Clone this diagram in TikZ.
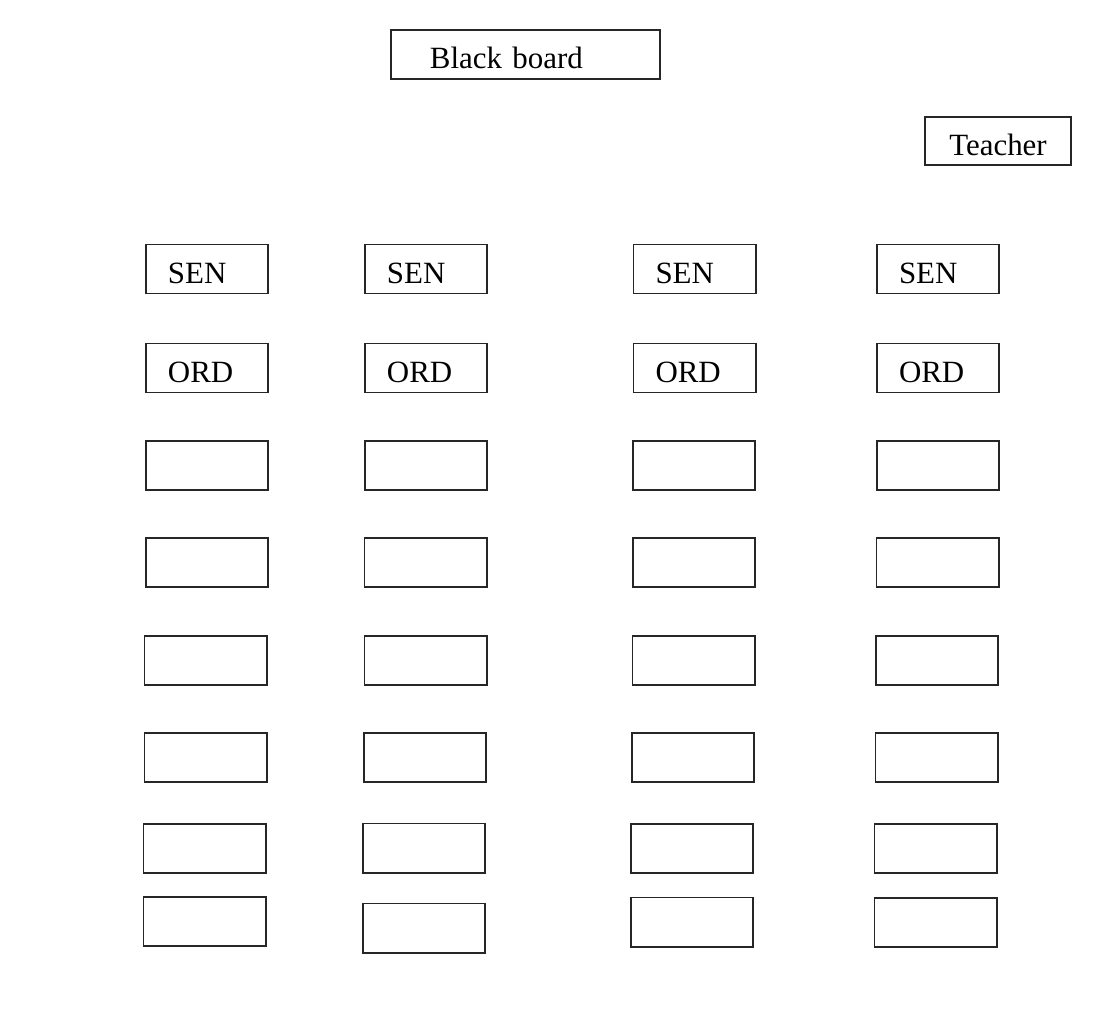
\documentclass[tikz,border=0pt]{standalone}
\usepackage{fontspec}
\setmainfont{Liberation Serif}
\usetikzlibrary{positioning}

\begin{document}
\begin{tikzpicture}[
        x=0.025cm, y=-0.025cm,
        desk/.style={rectangle, draw=black!85, line width=1.4pt, minimum width=3.05cm, minimum height=1.225cm, text width=1.95cm, inner xsep=0.55cm, align=left, text height=20pt, text depth=0pt, font=\fontsize{22}{26}\selectfont},
        board/.style={desk, minimum width=6.725cm, text width=4.775cm, inner xsep=0.975cm},
        tchr/.style={desk, minimum width=3.65cm, minimum height=1.2cm, text width=2.55cm, align=center}
    ]
        \useasboundingbox (0,0) rectangle (1110,1014);

        % Front of the room
        \node (board) [board] at (525.5,54.5) {Black board};
        \node (teacher) [tchr] at (998,141) {Teacher};

        % Row 1: SEN
        \node (senA) [desk] at (207,269) {SEN};
        \node (senB) [desk] at (426,269) {SEN};
        \node (senC) [desk] at (694.5,269) {SEN};
        \node (senD) [desk] at (938,269) {SEN};

        % Row 2: ORD
        \node (ordA) [desk] at (207,368) {ORD};
        \node (ordB) [desk] at (426,368) {ORD};
        \node (ordC) [desk] at (694.5,368) {ORD};
        \node (ordD) [desk] at (938,368) {ORD};

        % Empty desks
        \node (r3A) [desk] at (207,465.5) {};
        \node (r3B) [desk] at (426,465.5) {};
        \node (r3C) [desk] at (694,465.5) {};
        \node (r3D) [desk] at (938,465.5) {};

        \node (r4A) [desk] at (207,562.5) {};
        \node (r4B) [desk] at (425.5,562.5) {};
        \node (r4C) [desk] at (694,562.5) {};
        \node (r4D) [desk] at (937.5,562.5) {};

        \node (r5A) [desk] at (205.5,660.5) {};
        \node (r5B) [desk] at (425.5,660.5) {};
        \node (r5C) [desk] at (693.5,660.5) {};
        \node (r5D) [desk] at (937,660.5) {};

        \node (r6A) [desk] at (205.5,757.5) {};
        \node (r6B) [desk] at (425,757.5) {};
        \node (r6C) [desk] at (693,757.5) {};
        \node (r6D) [desk] at (936.5,757.5) {};

        \node (r7A) [desk] at (204.5,848.5) {};
        \node (r7B) [desk] at (424,848) {};
        \node (r7C) [desk] at (692,848.5) {};
        \node (r7D) [desk] at (935.5,848.5) {};

        \node (r8A) [desk] at (204.5,921.5) {};
        \node (r8B) [desk] at (424,928) {};
        \node (r8C) [desk] at (692,922) {};
        \node (r8D) [desk] at (935.5,922.5) {};
    \end{tikzpicture}
\end{document}
